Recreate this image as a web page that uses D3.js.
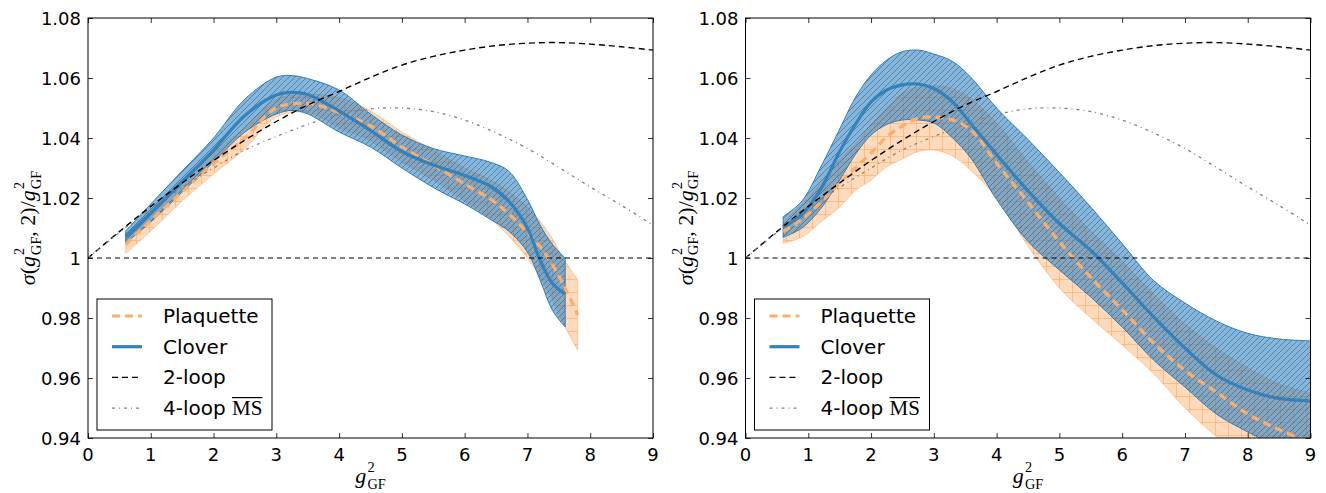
<!DOCTYPE html>
<html>
<head>
<meta charset="utf-8">
<script src="https://cdn.jsdelivr.net/npm/d3@7"></script>
<style>
  body { margin: 0; background: #fff; }
  svg { display: block; }
</style>
</head>
<body>
<div id="chart"></div>
<script>
// ---- data ----
const xTicks = [0, 1, 2, 3, 4, 5, 6, 7, 8, 9];
const yTicks = [1.08, 1.06, 1.04, 1.02, 1.0, 0.98, 0.96, 0.94];
const yTickLabels = ["1.08", "1.06", "1.04", "1.02", "1", "0.98", "0.96", "0.94"];

// perturbative curves, same in both panels
const pertX = [0, 0.5, 1, 1.5, 2, 2.5, 3, 3.5, 4, 4.5, 5, 5.5, 6, 6.5, 7, 7.5, 8, 8.5, 9];
const twoLoop = [1.000, 1.0088, 1.0172, 1.025, 1.0325, 1.0393, 1.0455, 1.051, 1.0555, 1.0602, 1.0643, 1.0672, 1.0693, 1.0708, 1.0716, 1.0718, 1.0713, 1.0704, 1.0693];
const fourLoop = [1.000, 1.0085, 1.0165, 1.0235, 1.030, 1.036, 1.0405, 1.0445, 1.0478, 1.0497, 1.050, 1.0488, 1.046, 1.0417, 1.0365, 1.0302, 1.0237, 1.0175, 1.011];

// left panel
const leftCloverX = [0.6, 1.0, 1.5, 2.0, 2.5, 3.0, 3.25, 3.5, 4.0, 4.5, 5.0, 5.5, 6.0, 6.4, 6.7, 7.0, 7.2, 7.4, 7.6];
const leftClover = [1.007, 1.015, 1.0255, 1.036, 1.0475, 1.0543, 1.0552, 1.0545, 1.049, 1.0425, 1.0355, 1.031, 1.0275, 1.024, 1.019, 1.010, 0.9993, 0.9915, 0.988];
const leftCloverHi = [1.009, 1.018, 1.029, 1.040, 1.053, 1.0603, 1.0608, 1.0598, 1.056, 1.048, 1.041, 1.0365, 1.034, 1.032, 1.029, 1.0195, 1.011, 1.0045, 1.000];
const leftCloverLo = [1.005, 1.012, 1.022, 1.032, 1.042, 1.048, 1.0492, 1.048, 1.042, 1.037, 1.030, 1.0235, 1.018, 1.013, 1.009, 1.002, 0.9927, 0.9825, 0.977];

const leftPlaqX = [0.6, 1.0, 1.5, 2.0, 2.5, 3.0, 3.5, 4.0, 4.5, 5.0, 5.5, 6.0, 6.5, 7.0, 7.3, 7.6, 7.8];
const leftPlaq = [1.0045, 1.0125, 1.022, 1.0315, 1.040, 1.050, 1.0515, 1.0485, 1.044, 1.037, 1.031, 1.0247, 1.0183, 1.0085, 1.001, 0.990, 0.981];
const leftPlaqHi = [1.0075, 1.016, 1.026, 1.035, 1.0435, 1.053, 1.0545, 1.0535, 1.049, 1.042, 1.036, 1.030, 1.025, 1.017, 1.0095, 0.999, 0.9927];
const leftPlaqLo = [1.0015, 1.009, 1.019, 1.028, 1.0365, 1.047, 1.0485, 1.0435, 1.039, 1.032, 1.026, 1.019, 1.0115, 1.000, 0.990, 0.977, 0.9693];

// right panel
const rightX = [0.6, 0.9, 1.2, 1.5, 1.75, 2.0, 2.25, 2.5, 2.75, 3.0, 3.3, 3.6, 4.0, 4.5, 5.0, 5.5, 6.0, 6.5, 7.0, 7.5, 8.0, 8.5, 9.0];
const rightClover = [1.0104, 1.0145, 1.023, 1.0355, 1.0445, 1.052, 1.056, 1.0577, 1.058, 1.0565, 1.052, 1.0445, 1.0345, 1.0224, 1.0115, 1.0025, 0.9917, 0.9804, 0.970, 0.961, 0.956, 0.9532, 0.9524];
const rightCloverHi = [1.0138, 1.019, 1.0304, 1.043, 1.0535, 1.061, 1.066, 1.0688, 1.0693, 1.068, 1.0655, 1.060, 1.050, 1.0395, 1.0285, 1.017, 1.0048, 0.9925, 0.985, 0.979, 0.9749, 0.973, 0.9724];
const rightCloverLo = [1.0069, 1.010, 1.0165, 1.026, 1.0345, 1.041, 1.0445, 1.046, 1.046, 1.045, 1.040, 1.033, 1.0195, 1.0055, 0.996, 0.987, 0.977, 0.966, 0.957, 0.948, 0.942, 0.937, 0.932];
const rightPlaq = [1.0088, 1.013, 1.0185, 1.025, 1.030, 1.035, 1.0404, 1.044, 1.0466, 1.047, 1.046, 1.0425, 1.0316, 1.0186, 1.0054, 0.9935, 0.9828, 0.9717, 0.9625, 0.9553, 0.948, 0.9428, 0.9385];
const rightPlaqHi = [1.012, 1.018, 1.025, 1.033, 1.038, 1.0445, 1.050, 1.055, 1.057, 1.0575, 1.0565, 1.053, 1.045, 1.032, 1.020, 1.009, 0.999, 0.988, 0.978, 0.970, 0.9635, 0.958, 0.955];
const rightPlaqLo = [1.0049, 1.007, 1.012, 1.017, 1.0225, 1.026, 1.0304, 1.033, 1.0355, 1.036, 1.034, 1.029, 1.020, 1.004, 0.990, 0.980, 0.971, 0.9615, 0.950, 0.9405, 0.932, 0.925, 0.918];

const legendLabels = ["Plaquette", "Clover", "2-loop", "4-loop "];

// ---- layout ----
const width = 1326, height = 493;
const plotTop = 18, plotBottom = 438;
const panels = [
  { left: 88, right: 653,
    clover: { x: leftCloverX, y: leftClover, hi: leftCloverHi, lo: leftCloverLo },
    plaq: { x: leftPlaqX, y: leftPlaq, hi: leftPlaqHi, lo: leftPlaqLo } },
  { left: 745.5, right: 1310.5,
    clover: { x: rightX, y: rightClover, hi: rightCloverHi, lo: rightCloverLo },
    plaq: { x: rightX, y: rightPlaq, hi: rightPlaqHi, lo: rightPlaqLo } }
];

const blue = "#3182bd", orange = "#fdae6b";
const sans = "'DejaVu Sans', sans-serif";
const serif = "'Liberation Serif', 'DejaVu Serif', serif";

const svg = d3.select("#chart").append("svg")
  .attr("width", width).attr("height", height)
  .attr("viewBox", `0 0 ${width} ${height}`);

const defs = svg.append("defs");
// hatch patterns
const hb = defs.append("pattern").attr("id", "hatchBlue")
  .attr("patternUnits", "userSpaceOnUse").attr("width", 6).attr("height", 6);
hb.append("path").attr("d", "M0,6 L6,0 M-1,1 L1,-1 M5,7 L7,5")
  .attr("stroke", "#20609a").attr("stroke-width", 0.8).attr("stroke-opacity", 0.75);
const ho = defs.append("pattern").attr("id", "hatchOrange")
  .attr("patternUnits", "userSpaceOnUse").attr("width", 13).attr("height", 13);
ho.append("path").attr("d", "M6.5,0 V13 M0,6.5 H13")
  .attr("stroke", orange).attr("stroke-width", 0.9).attr("stroke-opacity", 0.8);

// width of a string in the serif font at size fs
function measure(str, fs) {
  const t = svg.append("text").attr("font-family", serif).attr("font-size", fs).text(str);
  const w = t.node().getComputedTextLength();
  t.remove();
  return w;
}

// math label as one <text>: pieces are ["t", text, italic] or ["g"] for g^2_GF
function mathText(parent, fs, pieces) {
  const t = parent.append("text").attr("font-family", serif).attr("font-size", fs);
  const small = fs * 0.65;
  const supUp = fs * 0.48, subDown = fs * 0.26;
  const w2 = measure("2", small);
  let back = 0; // pending baseline correction after a sub/superscript
  pieces.forEach(pc => {
    if (pc[0] === "t") {
      t.append("tspan").attr("dy", back || null)
        .attr("font-style", pc[2] ? "italic" : "normal").text(pc[1]);
      back = 0;
    } else {
      t.append("tspan").attr("dy", back || null).attr("font-style", "italic").text("g");
      t.append("tspan").attr("dx", fs * 0.05).attr("dy", -supUp)
        .attr("font-size", small).text("2");
      t.append("tspan").attr("dx", -w2).attr("dy", supUp + subDown)
        .attr("font-size", small).text("GF");
      back = -subDown;
    }
  });
  return t;
}

panels.forEach((p, i) => {
  const x = d3.scaleLinear().domain([0, 9]).range([p.left, p.right]);
  const y = d3.scaleLinear().domain([0.94, 1.08]).range([plotBottom, plotTop]);
  const g = svg.append("g");

  const clipId = "clip" + i;
  defs.append("clipPath").attr("id", clipId).append("rect")
    .attr("x", p.left).attr("y", plotTop).attr("width", p.right - p.left).attr("height", plotBottom - plotTop);
  const plot = g.append("g").attr("clip-path", `url(#${clipId})`);

  const curve = d3.curveCatmullRom.alpha(0.5);
  const area = d3.area().curve(curve)
    .x(d => x(d[0])).y0(d => y(d[1])).y1(d => y(d[2]));
  const line = d3.line().curve(curve).x(d => x(d[0])).y(d => y(d[1]));

  const band = s => s.x.map((v, k) => [v, s.lo[k], s.hi[k]]);
  const mid = s => s.x.map((v, k) => [v, s.y[k]]);

  // plaquette band
  plot.append("path").attr("d", area(band(p.plaq)))
    .attr("fill", orange).attr("fill-opacity", 0.45)
    .attr("stroke", orange).attr("stroke-opacity", 0.6).attr("stroke-width", 1);
  plot.append("path").attr("d", area(band(p.plaq))).attr("fill", "url(#hatchOrange)");
  // clover band
  plot.append("path").attr("d", area(band(p.clover)))
    .attr("fill", blue).attr("fill-opacity", 0.58)
    .attr("stroke", blue).attr("stroke-width", 1);
  plot.append("path").attr("d", area(band(p.clover))).attr("fill", "url(#hatchBlue)");

  // central lines
  plot.append("path").attr("d", line(mid(p.plaq)))
    .attr("fill", "none").attr("stroke", orange).attr("stroke-width", 3.2)
    .attr("stroke-dasharray", "8,5");
  plot.append("path").attr("d", line(mid(p.clover)))
    .attr("fill", "none").attr("stroke", blue).attr("stroke-width", 3.2);

  // perturbative curves
  const pert = arr => pertX.map((v, k) => [v, arr[k]]);
  plot.append("path").attr("d", line(pert(twoLoop)))
    .attr("fill", "none").attr("stroke", "#000").attr("stroke-width", 1.4)
    .attr("stroke-dasharray", "6,4");
  plot.append("path").attr("d", line(pert(fourLoop)))
    .attr("fill", "none").attr("stroke", "#808080").attr("stroke-width", 1.3)
    .attr("stroke-dasharray", "3,4,1,4");
  plot.append("path").attr("d", d3.line()([[x(0), y(1)], [x(9), y(1)]]))
    .attr("fill", "none").attr("stroke", "#000").attr("stroke-width", 1)
    .attr("stroke-dasharray", "5,4");

  // axes: ticks inward on all four sides
  const tickStyle = a => a.call(s => s.select(".domain").remove())
    .call(s => s.selectAll("line").attr("stroke", "#000").attr("stroke-width", 0.8));
  g.append("g").attr("transform", `translate(0,${plotBottom})`)
    .call(d3.axisTop(x).tickValues(xTicks).tickSize(5).tickFormat("")).call(tickStyle);
  g.append("g").attr("transform", `translate(0,${plotTop})`)
    .call(d3.axisBottom(x).tickValues(xTicks).tickSize(5).tickFormat("")).call(tickStyle);
  g.append("g").attr("transform", `translate(${p.left},0)`)
    .call(d3.axisRight(y).tickValues(yTicks).tickSize(5).tickFormat("")).call(tickStyle);
  g.append("g").attr("transform", `translate(${p.right},0)`)
    .call(d3.axisLeft(y).tickValues(yTicks).tickSize(5).tickFormat("")).call(tickStyle);
  g.append("rect").attr("x", p.left).attr("y", plotTop)
    .attr("width", p.right - p.left).attr("height", plotBottom - plotTop)
    .attr("fill", "none").attr("stroke", "#000").attr("stroke-width", 1);

  // tick labels
  g.selectAll(".xl").data(xTicks).join("text")
    .attr("x", d => x(d)).attr("y", plotBottom + 23)
    .attr("text-anchor", "middle").attr("font-family", sans).attr("font-size", 18)
    .text(d => d);
  g.selectAll(".yl").data(yTicks).join("text")
    .attr("x", p.left - 7).attr("y", d => y(d) + 6.5)
    .attr("text-anchor", "end").attr("font-family", sans).attr("font-size", 18)
    .text((d, k) => yTickLabels[k]);

  // x label
  mathText(g, 22, [["g"]])
    .attr("x", (p.left + p.right) / 2).attr("y", 483).attr("text-anchor", "middle");

  // y label: sigma(g^2_GF, 2)/g^2_GF
  mathText(g, 22, [["t", "σ", true], ["t", "(", false], ["g"], ["t", ", 2)/", false], ["g"]])
    .attr("text-anchor", "middle")
    .attr("transform", `translate(${p.left - 53},${(plotTop + plotBottom) / 2}) rotate(-90)`);

  // legend
  const lg = g.append("g").attr("transform", `translate(${p.left + 9},299)`);
  lg.append("rect").attr("width", 175).attr("height", 131)
    .attr("fill", "#fff").attr("stroke", "#000").attr("stroke-width", 1);
  const rows = [
    { stroke: orange, w: 3.2, dash: "8,5" },
    { stroke: blue, w: 3.2, dash: null },
    { stroke: "#000", w: 1.4, dash: "6,4" },
    { stroke: "#808080", w: 1.3, dash: "3,4,1,4" }
  ];
  rows.forEach((r, k) => {
    const ry = 17 + k * 30.7;
    lg.append("line").attr("x1", 15).attr("x2", 45).attr("y1", ry).attr("y2", ry)
      .attr("stroke", r.stroke).attr("stroke-width", r.w)
      .attr("stroke-dasharray", r.dash);
    const t = lg.append("text").attr("x", 66).attr("y", ry + 7)
      .attr("font-family", sans).attr("font-size", 20)
      .style("white-space", "pre").text(legendLabels[k]);
    if (k === 3) {
      t.append("tspan").attr("font-family", serif).attr("font-size", 21).text("MS");
      const tw = t.node().getComputedTextLength();
      const mw = measure("MS", 21);
      lg.append("line").attr("x1", 66 + tw - mw).attr("x2", 66 + tw)
        .attr("y1", ry - 10.5).attr("y2", ry - 10.5)
        .attr("stroke", "#000").attr("stroke-width", 1.2);
    }
  });
});
</script>
</body>
</html>
